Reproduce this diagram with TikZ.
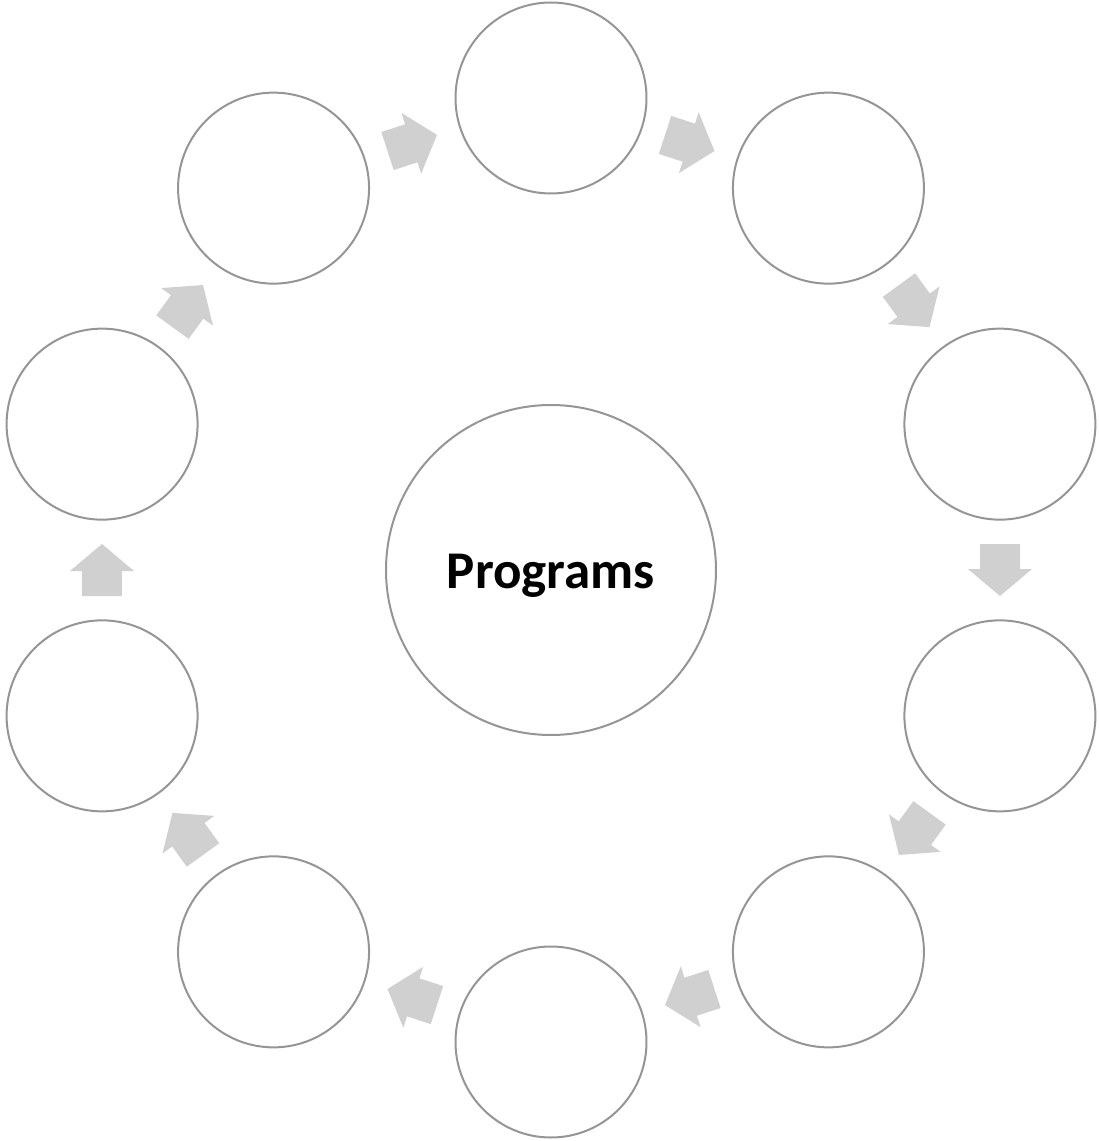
\documentclass[tikz,border=0pt]{standalone}
\usepackage{fontspec}
\setmainfont{Carlito}
\definecolor{ringgray}{HTML}{959595}
\definecolor{arrowgray}{HTML}{D0D0D0}
\begin{document}
\begin{tikzpicture}[x=1pt,y=1pt,
  ring/.style={circle,draw=ringgray,line width=2pt,minimum size=191pt,inner sep=0pt},
  hub/.style={circle,draw=ringgray,line width=2pt,minimum size=330pt,inner sep=0pt,
    text height=40pt,text depth=4pt,
    font=\bfseries\fontsize{53}{60}\selectfont},
  blockarrow/.style={fill=arrowgray,draw=none}]
\useasboundingbox (-551,-571) rectangle (548,570);
\node[hub] (hub) at (0,0) {Programs};
\foreach \i in {0,...,9}{
  \node[ring] (c\i) at ({90-36*\i}:472) {};
}
\foreach \i in {0,...,9}{
  \begin{scope}[shift={({72-36*\i}:449)},rotate={72-36*\i-90}]
    \fill[blockarrow] (-26,-20) -- (-1,-20) -- (-1,-32) -- (26,0) -- (-1,32) -- (-1,20) -- (-26,20) -- cycle;
  \end{scope}
}
\end{tikzpicture}
\end{document}
